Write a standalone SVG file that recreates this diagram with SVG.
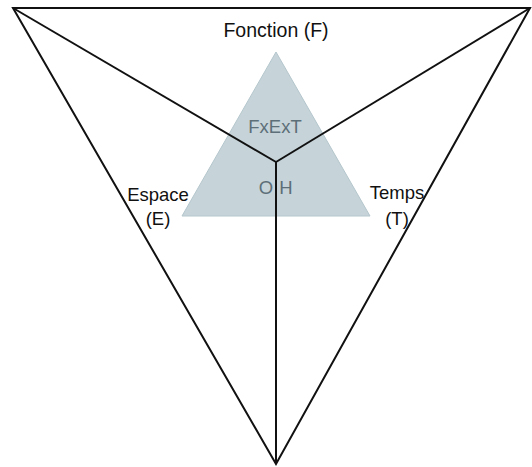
<svg xmlns="http://www.w3.org/2000/svg" width="532" height="467" viewBox="0 0 532 467">
<style>
.ln{stroke:#111;stroke-width:2;fill:none;stroke-linejoin:miter}
.lbl{font-family:"Liberation Sans",Arial,sans-serif;font-size:18.5px;fill:#111;text-anchor:middle}
.in{font-family:"Liberation Sans",Arial,sans-serif;font-size:18.5px;fill:#5d6f78;text-anchor:middle}
</style>
<rect width="532" height="467" fill="#fff"/>
<g id="inner-triangle">
<polygon points="276,52 182,216 370,216" fill="#c6d4d9" stroke="#b4c6cc" stroke-width="1"/>
<text class="in" x="275" y="133">FxExT</text>
<text class="in" x="266" y="194">O</text>
<text class="in" x="286" y="194">H</text>
</g>
<g id="connectors">
<polygon class="ln" points="13,8 530,8 276,464"/>
<line class="ln" x1="13" y1="8" x2="276" y2="162"/>
<line class="ln" x1="530" y1="8" x2="276" y2="162"/>
<line class="ln" x1="276" y1="162" x2="276" y2="464"/>
</g>
<g id="fonction">
<text class="lbl" x="276" y="37" style="font-size:19.5px">Fonction (F)</text>
</g>
<g id="espace">
<text class="lbl" x="158" y="201">Espace</text>
<text class="lbl" x="158" y="225">(E)</text>
</g>
<g id="temps">
<text class="lbl" x="397" y="199">Temps</text>
<text class="lbl" x="397" y="225">(T)</text>
</g>
</svg>
